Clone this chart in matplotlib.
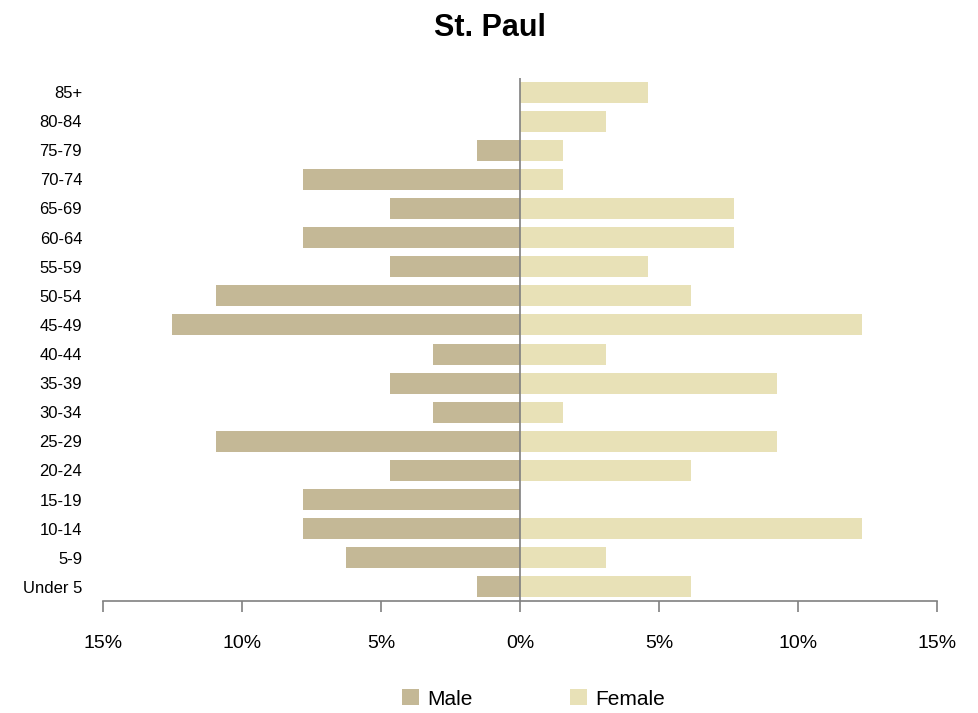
import matplotlib.pyplot as plt

plt.rcParams['font.family'] = ['Liberation Sans', 'DejaVu Sans']

ages = ['85+', '80-84', '75-79', '70-74', '65-69', '60-64', '55-59', '50-54', '45-49',
        '40-44', '35-39', '30-34', '25-29', '20-24', '15-19', '10-14', '5-9', 'Under 5']
male = [0, 0, 1.56, 7.81, 4.69, 7.81, 4.69, 10.94, 12.5,
        3.13, 4.69, 3.13, 10.94, 4.69, 7.81, 7.81, 6.25, 1.56]
female = [4.62, 3.08, 1.54, 1.54, 7.69, 7.69, 4.62, 6.15, 12.31,
          3.08, 9.23, 1.54, 9.23, 6.15, 0, 12.31, 3.08, 6.15]
xticks = [-15, -10, -5, 0, 5, 10, 15]

fig = plt.figure(figsize=(9.79, 7.13), dpi=100)
ax = fig.add_axes([0.1052, 0.1564, 0.8519, 0.7349])

ypos = list(range(len(ages)))[::-1]
ax.barh(ypos, [-m for m in male], height=0.72, color='#C4B896', label='Male')
ax.barh(ypos, female, height=0.72, color='#E8E1B7', label='Female')
ax.axvline(0, color='#808080', lw=1.2)

ax.set_xlim(-15, 15)
ax.set_ylim(-0.5, len(ages) - 0.5)
ax.set_yticks(ypos)
ax.set_yticklabels(ages, fontsize=12)
ax.set_xticks(xticks)
ax.set_xticklabels([f'{abs(t)}%' for t in xticks], fontsize=14)
ax.tick_params(axis='y', length=0, pad=15)
ax.tick_params(axis='x', length=8, color='#808080', width=1.2, pad=16)

for s in ['top', 'left', 'right']:
    ax.spines[s].set_visible(False)
ax.spines['bottom'].set_color('#808080')
ax.spines['bottom'].set_linewidth(1.2)

fig.suptitle('St. Paul', fontsize=22, fontweight='bold', y=0.982)
fig.legend(loc='lower center', bbox_to_anchor=(0.545, -0.02), ncol=2, frameon=False,
           fontsize=15, handlelength=0.8, handleheight=0.8, columnspacing=4.7, handletextpad=0.4)

fig.savefig('out.png')
